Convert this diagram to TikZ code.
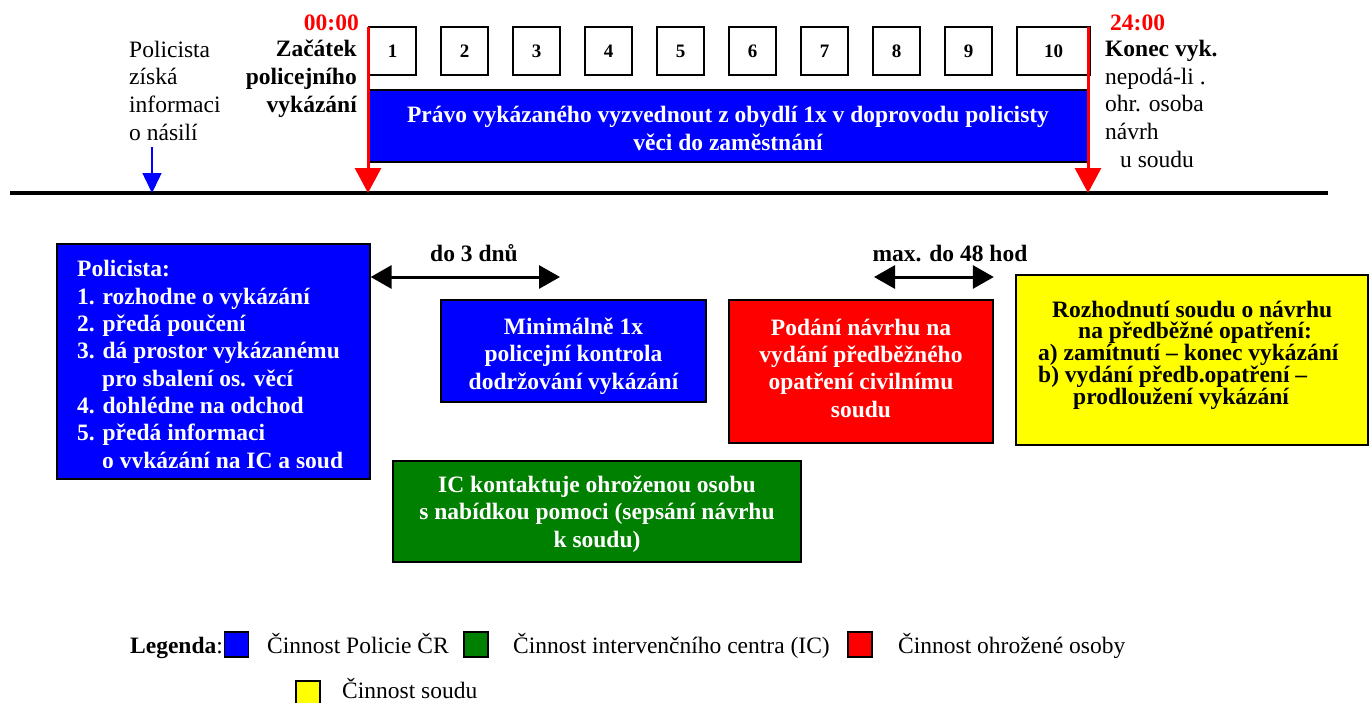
\documentclass[tikz,border=0pt]{standalone}
\usepackage{fontspec}
\setmainfont{Liberation Serif}
\usetikzlibrary{arrows.meta}
\definecolor{pblue}{RGB}{0,0,255}
\definecolor{pred}{RGB}{255,0,0}
\definecolor{pgreen}{RGB}{0,128,0}
\definecolor{pyellow}{RGB}{255,255,0}
\newcommand\fsz[1]{\fontsize{23.5}{#1}\selectfont}
\begin{document}
\begin{tikzpicture}[x=1pt,y=-1pt,
  colbox/.style={draw=black, line width=1.6pt, inner sep=0pt},
  boxtext/.style={inner sep=0pt, text=white, font=\fsz{27.2}\bfseries, align=center, anchor=base},
  numbox/.style={draw=black, line width=1.5pt, inner sep=0pt, minimum height=48,
    font=\fontsize{19}{22}\selectfont\bfseries},
  plain/.style={inner sep=0pt, font=\fsz{27.6}, align=left},
  boldlab/.style={inner sep=0pt, font=\fsz{27.6}\bfseries},
  redlab/.style={inner sep=0pt, font=\fsz{27.6}\bfseries, text=pred},
  redarrow/.style={draw=pred, line width=3pt, -{Triangle[length=25pt,width=26pt]}},
  bluearrow/.style={draw=pblue, line width=1.5pt, -{Triangle[length=20pt,width=19pt]}},
  dblarrow/.style={draw=black, line width=3pt, {Triangle[length=21pt,width=23pt]}-{Triangle[length=21pt,width=23pt]}},
  legsq/.style={draw=black, line width=1.2pt, minimum width=24, minimum height=25, inner sep=0pt},
]
\useasboundingbox (0,0) rectangle (1370,702);

% time line
\coordinate (tl0) at (10,193);
\coordinate (tl1) at (1328,193);
\draw[line width=4pt] (tl0) -- (tl1);

% numbered hour boxes
\foreach \i in {1,...,9} {
  \node[numbox, minimum width=47] (n\i) at ({392.5+72*(\i-1)},51) {\i};
}
\node[numbox, minimum width=73] (n10) at (1053.5,51) {10};

% big top blue box
\node[colbox, fill=pblue, minimum width=720, minimum height=72] (pravo) at (728,126) {};
\node[boxtext] (pravot) at (728,150)
  {Právo vykázaného vyzvednout z obydlí 1x v doprovodu policisty\\věci do zaměstnání};

% red time markers
\coordinate (t0) at (368,27);
\coordinate (t24) at (1088,27);
\draw[redarrow] (t0) -- (t0 |- tl0);
\draw[redarrow] (t24) -- (t24 |- tl0);
\node[redlab, anchor=base east] (l00) at (359,30) {00:00};
\node[redlab, anchor=base west] (l24) at (1110,30) {24:00};

% left labels (base anchor = last line baseline)
\node[plain, anchor=base west] (info) at (129,140) {Policista\\získá\\informaci\\o násilí};
\coordinate (infa) at (152,147);
\draw[bluearrow] (infa) -- (infa |- tl0);
\node[boldlab, anchor=base east, align=right] (zac) at (357,112) {Začátek\\policejního\\vykázání};

% right labels
\node[plain, anchor=base west] (konec) at (1105,167)
  {\textbf{Konec vyk.}\\nepodá-li .\\ohr. osoba\\návrh\\\hspace*{15pt}u soudu};

% Policista box
\node[colbox, fill=pblue, minimum width=313, minimum height=235, anchor=north west] (pol) at (56,243) {};
\begin{scope}
  \clip (57,244) rectangle (368,467);
  \node[inner sep=0pt, text=white, font=\fsz{27.3}\bfseries, align=left, anchor=base west] (poltext) at (77,468)
    {Policista:\\1. rozhodne o vykázání\\2. předá poučení\\3. dá prostor vykázanému\\\hspace*{25pt}pro sbalení os. věcí\\4. dohlédne na odchod\\5. předá informaci\\\hspace*{25pt}o vykázání na IC a soud};
\end{scope}

% kontrola
\node[colbox, fill=pblue, minimum width=265, minimum height=102] (kontrola) at (573.5,351) {};
\node[boxtext] (kontrolat) at (573.5,389)
  {Minimálně 1x\\policejní kontrola\\dodržování vykázání};

% podani
\node[colbox, fill=pred, minimum width=264, minimum height=143] (podani) at (861,371.5) {};
\node[boxtext] (podanit) at (861,417)
  {Podání návrhu na\\vydání předběžného\\opatření civilnímu\\soudu};

% soud
\node[colbox, fill=pyellow, minimum width=352, minimum height=170] (soud) at (1192,360) {};
\node[inner sep=0pt, font=\fsz{21.7}\bfseries, align=left, anchor=base west] (soudtext) at (1038,404)
  {\hspace*{14pt}Rozhodnutí soudu o návrhu\\\hspace*{40pt}na předběžné opatření:\\a) zamítnutí – konec vykázání\\b) vydání předb.opatření –\\\hspace*{35pt}prodloužení vykázání};

% IC
\node[colbox, fill=pgreen, minimum width=408, minimum height=101] (ic) at (597,511.5) {};
\node[boxtext] (ict) at (597,547)
  {IC kontaktuje ohroženou osobu\\s nabídkou pomoci (sepsání návrhu\\k soudu)};

% duration arrows
\coordinate (a3) at (560,277);
\draw[dblarrow] (pol.east |- a3) -- (a3);
\node[boldlab, anchor=base] (l3) at (474,261) {do 3 dnů};
\coordinate (a48l) at (874,277);
\draw[dblarrow] (a48l) -- (a48l -| podani.east);
\node[boldlab, anchor=base] (l48) at (950,261) {max. do 48 hod};

% legend
\node[inner sep=0pt, font=\fsz{27}, anchor=base west] (leg) at (130,653) {\textbf{Legenda}:};
\node[legsq, fill=pblue] (sqb) at (236.5,644.5) {};
\node[plain, anchor=base west] (legb) at (267,653) {Činnost Policie ČR};
\node[legsq, fill=pgreen] (sqg) at (476,644.5) {};
\node[plain, anchor=base west] (legg) at (513,653) {Činnost intervenčního centra (IC)};
\node[legsq, fill=pred] (sqr) at (860,644.5) {};
\node[plain, anchor=base west] (legr) at (898,653) {Činnost ohrožené osoby};
\node[legsq, fill=pyellow] (sqy) at (308,693.5) {};
\node[plain, anchor=base west] (legy) at (342,698) {Činnost soudu};
\end{tikzpicture}
\end{document}
